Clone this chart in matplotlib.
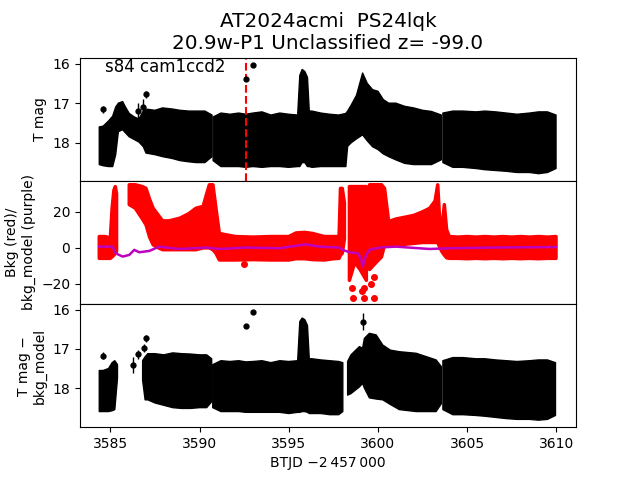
import numpy as np
import matplotlib
matplotlib.use('Agg')
import matplotlib.pyplot as plt

nan = np.nan

# ---- top panel: T mag band (bright edge / faint edge), segments split by nan
t_mag = [3584.38, 3584.6, 3584.9, 3585.13, 3585.3, 3585.45, 3585.69, 3585.85, 3586.06, 3586.35,
         3586.6, 3586.85, 3587.0, 3587.5, 3587.93, 3588.5, 3588.9, 3589.4, 3589.8, 3590.3, 3590.7,
         nan,
         3590.76, 3591.2, 3591.7, 3592.2, 3592.6, 3593.0, 3593.5, 3594.0, 3594.5, 3595.0, 3595.5,
         3595.62, 3595.75, 3595.9, 3596.05, 3596.15, 3596.3, 3596.8, 3597.3, 3597.8, 3598.2,
         3598.3, 3598.5, 3598.8, 3599.14, 3599.4, 3599.7, 3600.0, 3600.3, 3600.6, 3601.0, 3601.5,
         3602.0, 3602.5, 3603.0, 3603.55,
         nan,
         3603.64, 3604.2, 3604.75, 3605.5, 3606.0, 3606.6, 3607.2, 3607.8, 3608.5, 3609.0,
         3609.5, 3609.98]
mag_hi = [17.6, 17.58, 17.45, 17.33, 17.1, 17.0, 16.96, 17.1, 17.26, 17.35,
          17.4, 17.2, 17.15, 17.18, 17.12, 17.15, 17.18, 17.2, 17.2, 17.2, 17.3,
          nan,
          17.35, 17.25, 17.28, 17.25, 17.28, 17.25, 17.22, 17.3, 17.25, 17.28, 17.3,
          16.3, 16.15, 16.2, 16.35, 17.2, 17.2, 17.25, 17.28, 17.3, 17.26,
          17.2, 17.05, 16.8, 16.24, 16.5, 16.66, 16.7, 16.91, 17.0, 17.0, 17.08,
          17.12, 17.18, 17.21, 17.3,
          nan,
          17.25, 17.2, 17.2, 17.22, 17.2, 17.22, 17.25, 17.28, 17.25, 17.22,
          17.22, 17.3]
mag_lo = [18.55, 18.58, 18.6, 18.6, 18.3, 17.72, 17.67, 17.75, 17.85, 17.92,
          17.98, 18.1, 18.26, 18.3, 18.35, 18.4, 18.45, 18.48, 18.5, 18.5, 18.35,
          nan,
          18.45, 18.6, 18.6, 18.6, 18.62, 18.6, 18.62, 18.6, 18.6, 18.62, 18.6,
          18.6, 18.5, 18.5, 18.6, 18.6, 18.62, 18.6, 18.6, 18.6, 18.6,
          18.09, 18.0, 17.9, 17.8, 17.95, 18.1, 18.17, 18.28, 18.35, 18.43, 18.52,
          18.55, 18.55, 18.55, 18.43,
          nan,
          18.5, 18.62, 18.62, 18.65, 18.68, 18.7, 18.72, 18.75, 18.75, 18.78,
          18.75, 18.65]

# isolated top-panel points
t_pts = [3584.57, 3586.55, 3586.82, 3587.0, 3592.6, 3593.0]
m_pts = [17.16, 17.2, 17.1, 16.78, 16.39, 16.03]
e_pts = [0.1, 0.2, 0.2, 0.08, 0.03, 0.02]

t_event = 3592.62

# ---- middle panel: background (red band) and bkg_model (purple)
t_bkg = [3584.38, 3584.7, 3585.0, 3585.1, 3585.2, 3585.28, 3585.35,
         nan,
         3586.06, 3586.4, 3586.8, 3587.0, 3587.2, 3587.4, 3587.7, 3587.93, 3588.3, 3588.9,
         3589.4, 3589.8, 3590.2, 3590.4, 3590.55, 3590.75, 3590.92, 3591.11, 3592.0, 3593.0,
         3594.0, 3595.0, 3595.41, 3595.9, 3596.34, 3597.0, 3597.5, 3597.82, 3597.9, 3598.0,
         3598.12,
         nan,
         3598.4, 3598.7, 3599.0, 3599.35,
         nan,
         3599.53, 3599.9, 3600.2, 3600.37, 3600.6, 3601.0, 3601.5, 3602.0, 3602.5, 3602.9,
         3603.2, 3603.35, 3603.48, 3603.58, 3603.72, 3603.85, 3604.0, 3604.5, 3605.0, 3605.5,
         3606.0, 3606.5, 3607.0, 3607.5, 3608.0, 3608.5, 3609.0, 3609.5, 3609.98]
bkg_hi = [6.3, 6.3, 5.5, 22, 32, 34, 30,
          nan,
          35, 35, 34, 33, 27, 22, 18, 15, 15, 16.5,
          19, 22, 23, 30, 35, 35, 22, 8, 6.3, 6.0,
          6.3, 6.3, 8.3, 8.6, 8.0, 6.3, 6.3, 6.3, 33, 33,
          25,
          nan,
          34, 34, 34, 34,
          nan,
          35, 35, 35, 33, 14.6, 16, 17, 18, 20, 22,
          26, 35, 12, 10, 24, 10, 6.3, 6.0, 6.3, 6.0,
          6.3, 6.0, 6.3, 6.0, 6.3, 6.0, 6.3, 6.0, 6.3]
bkg_lo = [-5.8, -5.8, -5.8, -5, -4, -3, -2,
          nan,
          24, 22, 16, 12.8, 6, 1.7, 0, -1, -1, -1,
          -1, -1, 0, 0, 0, -1, -3, -6.7, -6.7, -6.5,
          -6.7, -6.7, -6.0, -6.0, -6.5, -6.7, -6.0, -5.8, -4, -3,
          5,
          nan,
          -18, -8, -12, -18,
          nan,
          -12, -8, -5, 1.7, 1.7, 2, 2, 2.5, 3, 3,
          3, 3, 0, -2, -4, -5.5, -5.8, -5.8, -6.0, -5.8,
          -6.0, -5.8, -6.0, -5.8, -6.0, -5.8, -6.0, -5.8, -5.8]

# scattered background outliers
t_bkg_pts = [3592.5, 3598.6, 3599.24, 3599.76, 3598.55, 3599.2, 3599.6, 3599.8, 3599.1]
v_bkg_pts = [-8.9, -27.6, -27.6, -27.6, -22, -22, -20, -16, -24]

t_model = [3584.38, 3585.13, 3585.3, 3585.69, 3586.06, 3586.34, 3586.62, 3587.18, 3587.74,
           3588.87, 3590.36, 3591.11, 3592.6, 3594.47, 3595.97, 3596.71, 3597.83, 3598.03,
           3598.4, 3598.87, 3599.05, 3599.14, 3599.33, 3599.52, 3600.08, 3601.0, 3602.9,
           3604.0, 3606.6, 3609.98]
bkg_model = [0.7, 0.7, -3.0, -4.8, -3.9, -1.1, -2.4, -1.7, 0.7,
             -0.6, 0.2, -0.6, 0.2, -0.2, 2.0, 0.7, 0.2, -1.1,
             -2.4, -3.0, -6.0, -10.4, -3.9, -1.1, 0.2, 0.7, -0.6,
             -0.2, 0.2, 0.5]

# ---- bottom panel: T mag - bkg_model
t_sub = [3584.38, 3584.6, 3584.9, 3585.1, 3585.25, 3585.4,
         nan,
         3586.81, 3586.95, 3587.1, 3587.5, 3588.0, 3588.5, 3589.0, 3589.5, 3590.0, 3590.4,
         3590.68,
         nan,
         3590.74, 3591.2, 3591.7, 3592.2, 3592.6, 3593.0, 3593.5, 3594.0, 3594.5, 3595.0,
         3595.5, 3595.62, 3595.75, 3595.9, 3596.05, 3596.15, 3596.3, 3596.8, 3597.3, 3597.8,
         3598.03,
         nan,
         3598.3, 3598.49, 3598.96, 3599.14, 3599.24, 3599.52, 3599.9, 3600.27, 3600.7,
         3601.2, 3602.14, 3603.26, 3603.55,
         nan,
         3603.64, 3604.2, 3604.75, 3605.5, 3606.0, 3606.6, 3607.2, 3607.8, 3608.5, 3609.0,
         3609.5, 3609.95]
sub_hi = [17.55, 17.55, 17.5, 17.35, 17.3, 17.4,
          nan,
          17.3, 17.2, 17.12, 17.12, 17.15, 17.1, 17.12, 17.13, 17.15, 17.15,
          17.25,
          nan,
          17.4, 17.3, 17.32, 17.3, 17.33, 17.32, 17.3, 17.35, 17.3, 17.32,
          17.3, 16.3, 16.21, 16.25, 16.4, 17.25, 17.25, 17.28, 17.3, 17.32,
          17.35,
          nan,
          17.32, 17.15, 16.94, 16.98, 16.73, 16.6, 16.64, 16.9, 17.03,
          17.07, 17.11, 17.28, 17.45,
          nan,
          17.3, 17.22, 17.22, 17.25, 17.25, 17.28, 17.3, 17.32, 17.3, 17.28,
          17.28, 17.35]
sub_lo = [18.6, 18.6, 18.6, 18.58, 18.55, 17.75,
          nan,
          17.8, 18.3, 18.3, 18.38, 18.44, 18.5, 18.52, 18.52, 18.5, 18.5,
          18.35,
          nan,
          18.5, 18.6, 18.6, 18.6, 18.62, 18.62, 18.62, 18.62, 18.62, 18.65,
          18.62, 18.62, 18.6, 18.6, 18.62, 18.65, 18.65, 18.65, 18.68, 18.68,
          18.6,
          nan,
          18.18, 18.14, 17.97, 17.88, 18.0, 18.25, 18.28, 18.3, 18.42,
          18.55, 18.6, 18.6, 18.4,
          nan,
          18.55, 18.68, 18.68, 18.7, 18.72, 18.75, 18.78, 18.8, 18.8, 18.82,
          18.8, 18.7]

t_sub_pts = [3584.57, 3586.25, 3586.55, 3586.87, 3587.0, 3592.58, 3593.0, 3599.14]
m_sub_pts = [17.17, 17.41, 17.14, 16.98, 16.73, 16.41, 16.06, 16.3]
e_sub_pts = [0.08, 0.2, 0.12, 0.1, 0.1, 0.03, 0.03, 0.22]


fig, axes = plt.subplots(3, 1, sharex=True, figsize=(6.4, 4.8), dpi=100)
plt.subplots_adjust(hspace=0)
ax1, ax2, ax3 = axes

# top: light curve
ax1.fill_between(t_mag, mag_hi, mag_lo, color='k', lw=1)
ax1.errorbar(t_pts, m_pts, yerr=e_pts, fmt='o', color='k', ms=3.5, elinewidth=1)
ax1.axvline(t_event, color='r', ls='--', lw=1.5)
ax1.set_ylim(18.96, 15.85)
ax1.set_yticks([16, 17, 18])
ax1.set_ylabel('T mag')
ax1.text(0.05, 0.995, 's84 cam1ccd2', transform=ax1.transAxes, va='top', fontsize=12)
ax1.set_title('AT2024acmi  PS24lqk\n20.9w-P1 Unclassified z= -99.0', fontsize=14.4)

# middle: background
ax2.fill_between(t_bkg, bkg_hi, bkg_lo, color='r', lw=2.5)
ax2.plot(t_bkg_pts, v_bkg_pts, 'o', color='r', ms=4)
ax2.plot(t_model, bkg_model, color='m', lw=1.8)
ax2.set_ylim(-31.1, 37.2)
ax2.set_yticks([-20, 0, 20])
ax2.set_ylabel('Bkg (red)/\nbkg_model (purple)')

# bottom: background-subtracted light curve
ax3.fill_between(t_sub, sub_hi, sub_lo, color='k', lw=1)
ax3.errorbar(t_sub_pts, m_sub_pts, yerr=e_sub_pts, fmt='o', color='k', ms=3.5, elinewidth=1)
ax3.set_ylim(19.0, 15.85)
ax3.set_yticks([16, 17, 18])
ax3.set_ylabel('T mag \u2212\nbkg_model')

ax3.set_xlim(3583.3, 3611.1)
ax3.set_xticks([3585, 3590, 3595, 3600, 3605, 3610])
ax3.set_xlabel('BTJD \u22122\u2009457\u2009000')

plt.savefig('out.png', dpi=100)
